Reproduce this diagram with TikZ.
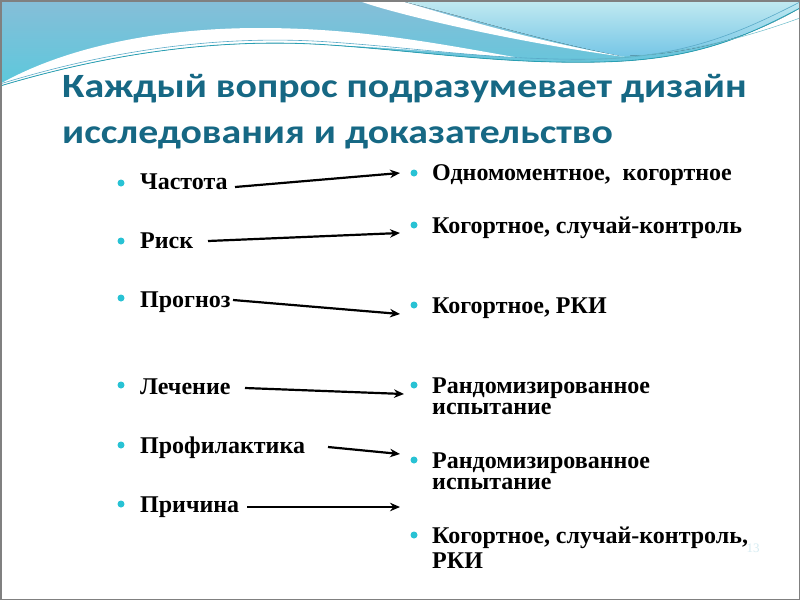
\documentclass[tikz,border=0pt]{standalone}
\usepackage{fontspec}
\setmainfont{Liberation Serif}
\newfontfamily\titlefont[FakeStretch=1.17]{Carlito}
\usetikzlibrary{arrows.meta}
\definecolor{titleteal}{RGB}{22,104,132}
\definecolor{bulletcyan}{RGB}{40,194,212}
\definecolor{bandleft}{RGB}{134,190,216}
\definecolor{bandmid}{RGB}{92,200,220}
\definecolor{bandlight}{RGB}{194,234,241}
\definecolor{bandlow}{RGB}{118,198,230}
\definecolor{wavelineA}{RGB}{40,160,180}
\definecolor{wavelineB}{RGB}{90,170,200}
\definecolor{pagenum}{RGB}{214,236,242}
\tikzset{
  itemtext/.style={anchor=base west, font=\bfseries\fontsize{24}{28}\selectfont, inner sep=0pt},
  twoline/.style={anchor=base west, align=left, font=\bfseries\fontsize{24}{21}\selectfont, inner sep=0pt},
  twolinewide/.style={anchor=base west, align=left, font=\bfseries\fontsize{24}{25}\selectfont, inner sep=0pt},
  titletext/.style={anchor=base west, font=\titlefont\bfseries\fontsize{34}{40}\selectfont, text=titleteal, inner sep=0pt},
  bulletdot/.style={circle, fill=bulletcyan, inner sep=0pt, minimum size=7pt},
  linkarrow/.style={line width=2.2pt, -{Stealth[length=10pt,width=8.5pt]}},
}
\begin{document}
\begin{tikzpicture}[x=1pt,y=-1pt]
\useasboundingbox (0,0) rectangle (800,600);
% background
\fill[white] (0,0) rectangle (800,600);
% band
\fill[top color=bandleft, bottom color=bandmid]
  (0,0) -- (800,0) -- (800,8)
  .. controls (740,40) and (690,60) .. (600,62)
  .. controls (500,64) and (430,52) .. (330,45)
  .. controls (230,38) and (120,50) .. (0,86) -- cycle;
% right light region
\fill[top color=bandlight, bottom color=bandlow]
  (397,0) -- (800,0) -- (800,8)
  .. controls (760,32) and (700,55) .. (620,56)
  .. controls (540,40) and (470,18) .. (397,0) -- cycle;
% white stripe
\fill[white]
  (357,0) .. controls (380,10) and (500,40) .. (625,57)
  .. controls (520,38) and (450,15) .. (397,0) -- cycle;
% white wave
\fill[white]
  (0,84) .. controls (60,50) and (150,28) .. (260,28)
  .. controls (360,28) and (440,44) .. (520,58)
  .. controls (440,52) and (380,47) .. (330,45)
  .. controls (230,38) and (120,50) .. (0,86) -- cycle;
% thin lines
\draw[wavelineA, line width=0.8pt]
  (0,86) .. controls (120,50) and (230,38) .. (330,45)
  .. controls (430,52) and (500,64) .. (600,62)
  .. controls (690,60) and (740,40) .. (800,8);
\draw[wavelineB, line width=0.6pt]
  (0,84) .. controls (120,47) and (230,35) .. (330,42)
  .. controls (430,49) and (500,61) .. (600,59)
  .. controls (690,56) and (745,30) .. (800,2);
\draw[wavelineA!70, line width=0.5pt]
  (560,61) .. controls (680,58) and (750,36) .. (800,18);
% border
\draw[gray, line width=1.5pt] (0.75,0.75) rectangle (799.25,599.25);
% title
\node[titletext] (t1) at (62,97) {Каждый вопрос подразумевает дизайн};
\node[titletext] (t2) at (62,143) {исследования и доказательство};
% left column
\node[bulletdot] (bl1) at (121,183) {};
\node[itemtext] (l1) at (140,189) {Частота};
\node[bulletdot] (bl2) at (121,241) {};
\node[itemtext] (l2) at (140,248) {Риск};
\node[bulletdot] (bl3) at (121,298) {};
\node[itemtext] (l3) at (140,307) {Прогноз};
\node[bulletdot] (bl4) at (121,385) {};
\node[itemtext] (l4) at (140,394) {Лечение};
\node[bulletdot] (bl5) at (121,445) {};
\node[itemtext] (l5) at (140,453) {Профилактика};
\node[bulletdot] (bl6) at (121,504) {};
\node[itemtext] (l6) at (140,512) {Причина};
% right column
\node[bulletdot] (br1) at (414,173) {};
\node[itemtext] (r1) at (432,180) {Одномоментное,\ \ когортное};
\node[bulletdot] (br2) at (414,225) {};
\node[itemtext] (r2) at (432,233) {Когортное, случай-контроль};
\node[bulletdot] (br3) at (414,305) {};
\node[itemtext] (r3) at (432,313) {Когортное, РКИ};
\node[bulletdot] (br4) at (414,385) {};
\node[twoline] (r4) at (432,414) {Рандомизированное\\испытание};
\node[bulletdot] (br5) at (414,460) {};
\node[twoline] (r5) at (432,489) {Рандомизированное\\испытание};
\node[bulletdot] (br6) at (414,535) {};
\node[twolinewide] (r6) at (432,568) {Когортное, случай-контроль,\\РКИ};
% page number
\node[anchor=base, font=\fontsize{13}{15}\selectfont, text=pagenum, inner sep=0pt] (pn) at (753,552) {13};
% arrows
\coordinate (a1s) at (235,187); \coordinate (a1e) at (400,173);
\coordinate (a2s) at (208,241); \coordinate (a2e) at (400,233);
\coordinate (a3s) at (233,300); \coordinate (a3e) at (400,314);
\coordinate (a4s) at (245,388); \coordinate (a4e) at (404,394);
\coordinate (a5s) at (328,447); \coordinate (a5e) at (400,454);
\coordinate (a6s) at (247,507); \coordinate (a6e) at (400,507);
\draw[linkarrow] (a1s) -- (a1e);
\draw[linkarrow] (a2s) -- (a2e);
\draw[linkarrow] (a3s) -- (a3e);
\draw[linkarrow] (a4s) -- (a4e);
\draw[linkarrow] (a5s) -- (a5e);
\draw[linkarrow] (a6s) -- (a6e);
\end{tikzpicture}
\end{document}
